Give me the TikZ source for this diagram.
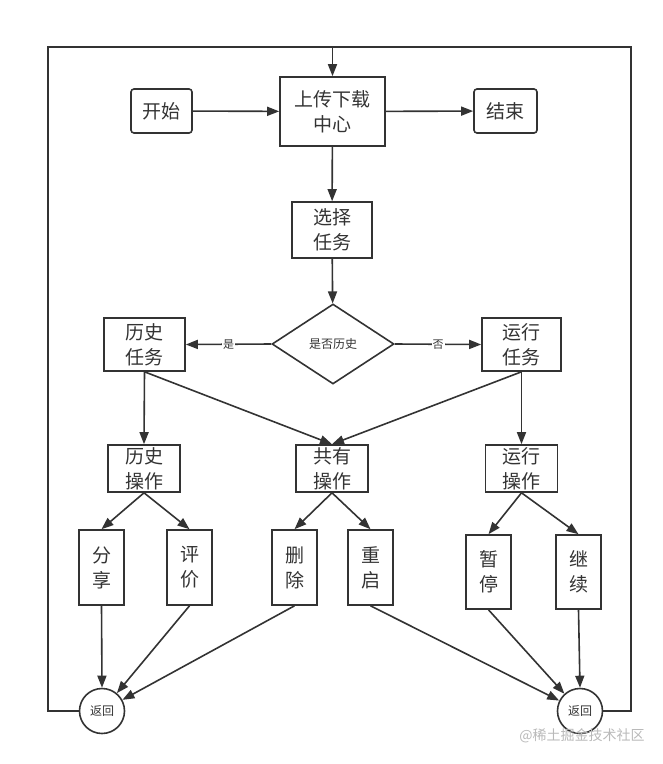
\documentclass[tikz,border=0pt]{standalone}
\usepackage{fontspec}
\usepackage{xcolor}
\usetikzlibrary{arrows.meta,shapes.geometric}
\newfontfamily\cjk{Noto Sans CJK SC}
\definecolor{ink}{HTML}{333333}

\begin{document}
\begin{tikzpicture}[x=1pt,y=-1pt,
  line/.style={draw=ink,line width=1.6pt},
  arr/.style={line,-{Triangle[length=12pt,width=9pt]}},
  box/.style={line,inner sep=0pt,align=center,text=ink,
    font=\cjk\fontsize{19}{25}\selectfont},
  leaf/.style={box,minimum width=45pt,minimum height=75pt},
  opbox/.style={box,minimum width=72pt,minimum height=47pt},
  back/.style={line,circle,minimum size=45pt,inner sep=0pt,text=ink,
    font=\cjk\fontsize{12}{14}\selectfont},
  yesno/.style={fill=white,inner sep=1pt,text=ink,
    font=\cjk\fontsize{11}{13}\selectfont}]

% Picture size
\useasboundingbox (0,0) rectangle (663,764);

% Frame corners for the loop back
\def\lx{48}
\def\rx{631}
\def\ty{47}

% Top row
\node[box,rounded corners=3pt,minimum width=61pt,minimum height=44pt] (start) at (161.5,111) {开始};
\node[box,minimum width=105pt,minimum height=69pt] (center) at (332.5,111.5) {上传下载\\中心};
\node[box,rounded corners=3pt,minimum width=63pt,minimum height=44pt] (finish) at (505.5,111) {结束};

% Choose and decide
\node[box,minimum width=80pt,minimum height=56pt] (choose) at (332,230) {选择\\任务};
\node[line,diamond,minimum width=122pt,minimum height=80pt,inner sep=0pt,text=ink,
  font=\cjk\fontsize{12}{14}\selectfont] (decide) at (333,344) {是否历史};

% Tasks
\node[box,minimum width=81pt,minimum height=53pt] (histtask) at (144.5,344.5) {历史\\任务};
\node[box,minimum width=79pt,minimum height=53pt] (runtask) at (521.5,344.5) {运行\\任务};

% Operations
\node[opbox] (histop) at (144,468.5) {历史\\操作};
\node[opbox] (commonop) at (332,468.5) {共有\\操作};
\node[opbox] (runop) at (521.5,468.5) {运行\\操作};

% Leaves
\node[leaf] (share) at (101.5,567.5) {分\\享};
\node[leaf] (rate) at (189.5,567.5) {评\\价};
\node[leaf] (remove) at (294.5,567.5) {删\\除};
\node[leaf] (restart) at (370.5,567.5) {重\\启};
\node[leaf,minimum height=74pt] (pause) at (488.5,572) {暂\\停};
\node[leaf,minimum height=74pt] (resume) at (578.5,572) {继\\续};

% Return circles
\node[back] (backl) at (102,711) {返回};
\node[back] (backr) at (580,711) {返回};

% Loop coordinates
\coordinate (topl) at (\lx,\ty);
\coordinate (topr) at (\rx,\ty);
\coordinate (topmid) at (332.5,\ty);

% Top connectors
\draw[arr] (start) -- (center);
\draw[arr] (center) -- (finish);
\draw[arr] (center) -- (choose);
\draw[arr] (choose) -- (decide);

% Decision
\draw[arr] (decide.west) -- node[yesno] {是} (histtask.east);
\draw[arr] (decide.east) -- node[yesno] {否} (runtask.west);

% Tasks to operations
\draw[arr] (histtask.south) -- (histop.north);
\draw[arr] (histtask.south) -- (commonop.north);
\draw[arr] (runtask.south) -- (commonop.north);
\draw[arr] (runtask.south) -- (runop.north);

% Operations to leaves
\draw[arr] (histop.south) -- (share.north);
\draw[arr] (histop.south) -- (rate.north);
\draw[arr] (commonop.south) -- (remove.north);
\draw[arr] (commonop.south) -- (restart.north);
\draw[arr] (runop.south) -- (pause.north);
\draw[arr] (runop.south) -- (resume.north);

% Leaves to return
\draw[arr] (share.south) -- (backl.north);
\draw[arr] (rate.south) -- (backl);
\draw[arr] (remove.south) -- (backl);
\draw[arr] (restart.south) -- (backr);
\draw[arr] (pause.south) -- (backr);
\draw[arr] (resume.south) -- (backr.north);

% Loop back to the center
\draw[line] (backl.west) -| (topl) -- (topmid);
\draw[line] (backr.east) -| (topr) -- (topmid);
\draw[arr] (topmid) -- (center.north);

% Watermark
\node[text=gray!55,font=\cjk\fontsize{14}{16}\selectfont] (mark) at (582,736) {@稀土掘金技术社区};

\end{tikzpicture}
\end{document}
